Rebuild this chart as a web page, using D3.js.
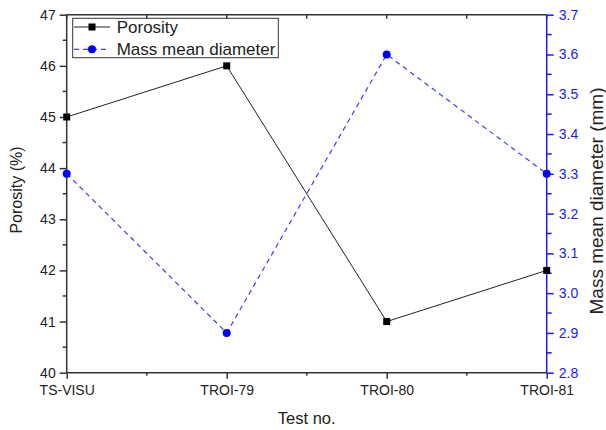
<!DOCTYPE html>
<html>
<head>
<meta charset="utf-8">
<script src="https://cdn.jsdelivr.net/npm/d3@7"></script>
<style>
  body { margin: 0; background: #fff; }
  svg { display: block; }
  svg text { font-family: "Liberation Sans", Arial, sans-serif; }
</style>
</head>
<body>
<svg id="chart" width="606" height="430"></svg>
<script>
// data
const tests = ["TS-VISU", "TROI-79", "TROI-80", "TROI-81"];
const porosity = [45, 46, 41, 42];
const massMeanDiameter = [3.3, 2.9, 3.6, 3.3];
const leftTicks = [40, 41, 42, 43, 44, 45, 46, 47];
const rightTicks = [2.8, 2.9, 3.0, 3.1, 3.2, 3.3, 3.4, 3.5, 3.6, 3.7];

const width = 606;
const height = 430;
const margin = { top: 14.7, right: 59.3, bottom: 57.3, left: 66.7 };
const blue = "#1a1aff";
const axisColor = "#333";

const svg = d3.select("#chart");

const x = d3.scalePoint()
  .domain(tests)
  .range([margin.left, width - margin.right]);
const yL = d3.scaleLinear().domain([40, 47]).range([height - margin.bottom, margin.top]);
const yR = d3.scaleLinear().domain([2.8, 3.7]).range([height - margin.bottom, margin.top]);

// midpoints between categories for the minor ticks
const mids = d3.pairs(tests.map((t) => x(t))).map(([a, b]) => (a + b) / 2);

const plotTop = margin.top, plotBottom = height - margin.bottom;
const plotLeft = margin.left, plotRight = width - margin.right;

// bottom axis
const gx = svg.append("g").attr("transform", `translate(0,${plotBottom})`);
gx.call(d3.axisBottom(x).tickSize(6).tickPadding(6))
  .call((g) => g.select(".domain").remove());
gx.selectAll(".tick line").attr("stroke", axisColor).attr("stroke-width", 1.5);
gx.selectAll(".tick text").attr("font-size", 14).attr("fill", "#222");
gx.selectAll(".minor").data(mids).enter().append("line")
  .attr("x1", (d) => d).attr("x2", (d) => d).attr("y1", 0).attr("y2", 3)
  .attr("stroke", axisColor).attr("stroke-width", 1.5);

// top axis (ticks inside)
const gt = svg.append("g");
gt.selectAll("line").data(tests.map((t) => x(t)).concat(mids)).enter().append("line")
  .attr("x1", (d) => d).attr("x2", (d) => d).attr("y1", plotTop).attr("y2", plotTop + 4)
  .attr("stroke", axisColor).attr("stroke-width", 1.5);

// left axis
const gy = svg.append("g").attr("transform", `translate(${plotLeft},0)`);
gy.call(d3.axisLeft(yL).tickValues(leftTicks).tickFormat(d3.format("d")).tickSize(7).tickPadding(4))
  .call((g) => g.select(".domain").remove());
gy.selectAll(".tick line").attr("stroke", axisColor).attr("stroke-width", 1.5);
gy.selectAll(".tick text").attr("font-size", 14).attr("fill", "#222");
gy.selectAll(".minor").data(d3.pairs(leftTicks).map(([a, b]) => (a + b) / 2)).enter().append("line")
  .attr("x1", -4).attr("x2", 0).attr("y1", (d) => yL(d)).attr("y2", (d) => yL(d))
  .attr("stroke", axisColor).attr("stroke-width", 1.5);

// right axis (blue)
const gr = svg.append("g").attr("transform", `translate(${plotRight},0)`);
gr.call(d3.axisRight(yR).tickValues(rightTicks).tickFormat(d3.format(".1f")).tickSize(7).tickPadding(5))
  .call((g) => g.select(".domain").remove());
gr.selectAll(".tick line").attr("stroke", blue).attr("stroke-width", 1.5);
gr.selectAll(".tick text").attr("font-size", 14).attr("fill", blue);
gr.selectAll(".minor").data(d3.pairs(rightTicks).map(([a, b]) => (a + b) / 2)).enter().append("line")
  .attr("x1", 0).attr("x2", 5).attr("y1", (d) => yR(d)).attr("y2", (d) => yR(d))
  .attr("stroke", blue).attr("stroke-width", 1.5);

// frame
svg.append("line").attr("x1", plotLeft).attr("x2", plotRight).attr("y1", plotTop).attr("y2", plotTop)
  .attr("stroke", axisColor).attr("stroke-width", 1.5);
svg.append("line").attr("x1", plotLeft).attr("x2", plotRight).attr("y1", plotBottom).attr("y2", plotBottom)
  .attr("stroke", axisColor).attr("stroke-width", 1.5);
svg.append("line").attr("x1", plotLeft).attr("x2", plotLeft).attr("y1", plotTop).attr("y2", plotBottom)
  .attr("stroke", axisColor).attr("stroke-width", 1.5);
svg.append("line").attr("x1", plotRight).attr("x2", plotRight).attr("y1", plotTop).attr("y2", plotBottom)
  .attr("stroke", blue).attr("stroke-width", 1.5);

// porosity series
const lineL = d3.line().x((d, i) => x(tests[i])).y((d) => yL(d));
svg.append("path").datum(porosity).attr("d", lineL)
  .attr("fill", "none").attr("stroke", "#222").attr("stroke-width", 1);
svg.selectAll(".sq").data(porosity).enter().append("rect")
  .attr("x", (d, i) => x(tests[i]) - 3.5).attr("y", (d) => yL(d) - 3.5)
  .attr("width", 7).attr("height", 7).attr("fill", "#000");

// mass mean diameter series
const lineR = d3.line().x((d, i) => x(tests[i])).y((d) => yR(d));
svg.append("path").datum(massMeanDiameter).attr("d", lineR)
  .attr("fill", "none").attr("stroke", "#3d3dff").attr("stroke-width", 1.2)
  .attr("stroke-dasharray", "5,4");
svg.selectAll(".dot").data(massMeanDiameter).enter().append("circle")
  .attr("cx", (d, i) => x(tests[i])).attr("cy", (d) => yR(d))
  .attr("r", 4).attr("fill", "#0000ff");

// axis titles
svg.append("text").attr("x", (plotLeft + plotRight) / 2).attr("y", 424)
  .attr("text-anchor", "middle").attr("font-size", 16.5).attr("fill", "#222")
  .text("Test no.");
svg.append("text").attr("transform", "translate(22,190) rotate(-90)")
  .attr("text-anchor", "middle").attr("font-size", 16).attr("fill", "#222")
  .text("Porosity (%)");
svg.append("text").attr("transform", "translate(603,201) rotate(-90)")
  .attr("text-anchor", "middle").attr("font-size", 19).attr("fill", "#222")
  .text("Mass mean diameter (mm)");

// legend
const legend = svg.append("g");
legend.append("rect").attr("x", 72.7).attr("y", 18.3).attr("width", 205.6).attr("height", 39.4)
  .attr("fill", "#fff").attr("stroke", axisColor).attr("stroke-width", 1);
const rows = [
  { name: "Porosity", y: 27, dash: null, color: "#222", marker: "rect" },
  { name: "Mass mean diameter", y: 49.3, dash: "5,4", color: "#3d3dff", marker: "circle" }
];
rows.forEach((r) => {
  legend.append("line").attr("x1", 74).attr("x2", 110).attr("y1", r.y).attr("y2", r.y)
    .attr("stroke", r.color).attr("stroke-width", 1.2).attr("stroke-dasharray", r.dash);
  if (r.marker === "rect") {
    legend.append("rect").attr("x", 92 - 3.5).attr("y", r.y - 3.5).attr("width", 7).attr("height", 7)
      .attr("fill", "#000");
  } else {
    legend.append("circle").attr("cx", 92).attr("cy", r.y).attr("r", 4).attr("fill", "#0000ff");
  }
  legend.append("text").attr("x", 116.7).attr("y", r.y + 6).attr("font-size", 17).attr("fill", "#222")
    .text(r.name);
});
</script>
</body>
</html>
